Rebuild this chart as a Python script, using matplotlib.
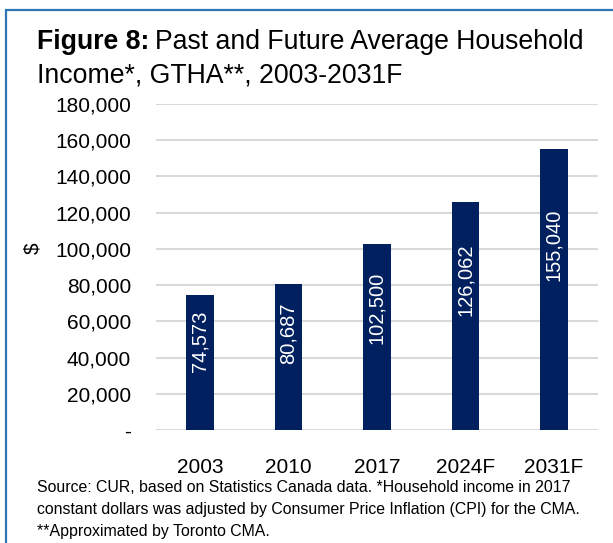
import matplotlib
matplotlib.use("Agg")
import matplotlib.pyplot as plt
from matplotlib.patches import Rectangle
from matplotlib.ticker import FuncFormatter

plt.rcParams['font.family'] = ['Liberation Sans', 'DejaVu Sans']

# data
years = ['2003', '2010', '2017', '2024F', '2031F']
income = [74573, 80687, 102500, 126062, 155040]
yticks = list(range(0, 180001, 20000))

W, H = 613, 543
fig = plt.figure(figsize=(W / 100, H / 100), dpi=100)

# blue frame (right and bottom run off the picture)
fig.patches.append(Rectangle((6 / W, -0.1), 1.2, 1 - 10 / H + 0.1,
                             transform=fig.transFigure, fill=False,
                             edgecolor='#2E75B6', linewidth=1.6))

ax = fig.add_axes([156 / W, 1 - 430 / H, 442 / W, 326 / H])
x = range(len(years))
ax.bar(x, income, width=0.31, color='#002060', zorder=3)
ax.set_xlim(-0.5, 4.5)
ax.set_ylim(0, 180000)
ax.set_yticks(yticks)
ax.yaxis.set_major_formatter(FuncFormatter(lambda v, p: '-' if v == 0 else f'{int(v):,}'))
ax.set_xticks(list(x))
ax.set_xticklabels(years)
ax.tick_params(axis='both', length=0, labelsize=15)
ax.tick_params(axis='y', pad=18)
ax.tick_params(axis='x', pad=20)
ax.grid(axis='y', color='#D9D9D9', linewidth=1.5, zorder=0)
for s in ax.spines.values():
    s.set_visible(False)

for i, v in enumerate(income):
    ax.text(i, v * 0.66, f'{v:,}', rotation=90, ha='center', va='center',
            color='white', fontsize=14.5, zorder=4)

fig.text(33 / W, 1 - 248 / H, '$', rotation=90, ha='center', va='center', fontsize=15)

# title with bold lead-in
fig.canvas.draw()
r = fig.canvas.get_renderer()
t1 = fig.text(37 / W, 1 - 42 / H, 'Figure 8:', fontsize=19.2, fontweight='bold', va='center')
bb = t1.get_window_extent(renderer=r)
fig.text(bb.x1 / W + 0.009, 1 - 42 / H, 'Past and Future Average Household', fontsize=19.2, va='center')
fig.text(37 / W, 1 - 75 / H, 'Income*, GTHA**, 2003-2031F', fontsize=19.2, va='center')

note = ("Source: CUR, based on Statistics Canada data. *Household income in 2017\n"
        "constant dollars was adjusted by Consumer Price Inflation (CPI) for the CMA.\n"
        "**Approximated by Toronto CMA.")
fig.text(37 / W, 1 - 480 / H, note, fontsize=11.4, va='top', linespacing=1.6)

fig.savefig('out.png', dpi=100)
